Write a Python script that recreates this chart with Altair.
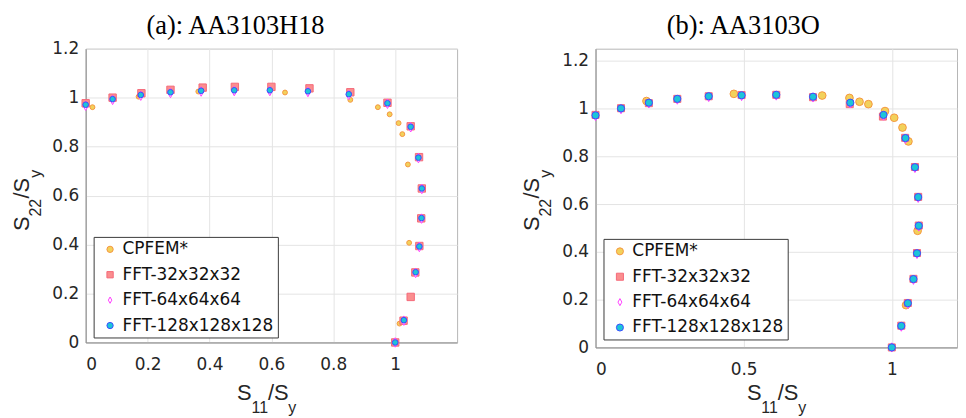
import altair as alt
import pandas as pd

names = ["CPFEM*", "FFT-32x32x32", "FFT-64x64x64", "FFT-128x128x128"]

# ---------------- Panel (a): AA3103H18 ----------------
a_cp_x = [0.022, 0.171, 0.364, 0.644, 0.855, 0.944, 0.982, 1.011, 1.023, 1.041, 1.045, 1.014]
a_cp_y = [0.961, 1.004, 1.025, 1.021, 0.991, 0.961, 0.932, 0.896, 0.851, 0.727, 0.407, 0.077]

a_f32_x = [0.0, 0.087, 0.180, 0.274, 0.378, 0.482, 0.600, 0.723, 0.855, 0.975, 1.050, 1.077, 1.086, 1.084, 1.078, 1.065, 1.050, 1.027, 1.000]
a_f32_y = [0.977, 1.000, 1.018, 1.032, 1.041, 1.044, 1.044, 1.038, 1.022, 0.979, 0.883, 0.757, 0.629, 0.507, 0.394, 0.286, 0.186, 0.089, 0.0]

a_f64_x = [0.0, 0.087, 0.178, 0.274, 0.373, 0.480, 0.595, 0.718, 0.850, 0.975, 1.050, 1.075, 1.086, 1.085, 1.078, 1.066, 1.028, 1.000]
a_f64_y = [0.967, 0.991, 1.008, 1.019, 1.025, 1.027, 1.027, 1.023, 1.011, 0.975, 0.879, 0.753, 0.627, 0.506, 0.390, 0.284, 0.089, 0.0]

a_f128_x = [0.0, 0.087, 0.178, 0.274, 0.373, 0.480, 0.595, 0.718, 0.850, 0.975, 1.050, 1.075, 1.086, 1.085, 1.078, 1.066, 1.028, 1.000]
a_f128_y = [0.971, 0.994, 1.011, 1.022, 1.028, 1.030, 1.030, 1.026, 1.014, 0.977, 0.881, 0.755, 0.629, 0.508, 0.392, 0.287, 0.091, 0.0]

# ---------------- Panel (b): AA3103O ----------------
b_cp_x = [0.172, 0.467, 0.765, 0.857, 0.891, 0.921, 0.977, 1.008, 1.036, 1.056, 1.087, 1.048]
b_cp_y = [1.031, 1.061, 1.054, 1.044, 1.028, 1.018, 0.989, 0.961, 0.920, 0.862, 0.488, 0.177]

b_f32_x = [0.0, 0.086, 0.180, 0.276, 0.382, 0.493, 0.610, 0.734, 0.858, 0.970, 1.045, 1.078, 1.089, 1.091, 1.085, 1.073, 1.054, 1.032, 1.000]
b_f32_y = [0.973, 1.001, 1.022, 1.040, 1.051, 1.056, 1.057, 1.047, 1.018, 0.966, 0.877, 0.755, 0.630, 0.510, 0.395, 0.287, 0.186, 0.091, 0.0]

b_f64_x = [0.0, 0.086, 0.180, 0.276, 0.382, 0.493, 0.610, 0.734, 0.860, 0.972, 1.046, 1.078, 1.089, 1.091, 1.085, 1.073, 1.054, 1.032, 1.000]
b_f64_y = [0.968, 0.997, 1.021, 1.037, 1.048, 1.052, 1.054, 1.046, 1.021, 0.970, 0.873, 0.751, 0.626, 0.506, 0.391, 0.283, 0.182, 0.087, 0.0]

b_f128_x = [0.0, 0.086, 0.180, 0.276, 0.382, 0.493, 0.610, 0.734, 0.860, 0.972, 1.046, 1.078, 1.089, 1.091, 1.085, 1.073, 1.054, 1.032, 1.000]
b_f128_y = [0.971, 1.000, 1.024, 1.040, 1.051, 1.055, 1.057, 1.049, 1.024, 0.973, 0.876, 0.754, 0.629, 0.509, 0.394, 0.286, 0.185, 0.090, 0.0]

# ---------------- styling ----------------
fills = ["#f2d15b", "#fa8e8e", "#ffffff", "#1cc5d7"]
strokes = ["#f5963f", "#f56a7a", "#ff3dff", "#3a4cff"]
diamond = "M0,-1L0.55,0L0,1L-0.55,0Z"
shapes = ["circle", "square", diamond, "circle"]
TXT = "#262626"


def one_text(text, px, py, font, fs, color, angle=None, align="left"):
    kw = dict(align=align, baseline="alphabetic", font=font, fontSize=fs,
              color=color, text=text)
    if angle is not None:
        kw["angle"] = angle
    return alt.Chart(pd.DataFrame({"k": [0]})).mark_text(**kw).encode(
        x=alt.value(px), y=alt.value(py)
    )


def sub_title(parts, x0, y0, rotate):
    layers = []
    for text, fs, off, shift in parts:
        if rotate:
            px, py = x0 + shift, y0 - off
        else:
            px, py = x0 + off, y0 + shift
        layers.append(one_text(text, px, py, "Liberation Sans", fs, TXT,
                               angle=270 if rotate else None))
    return layers


def panel(series, title, title_x, xt_x, xdom, xvals, ydom, width, height, sizes,
          legend_y, sym_size):
    rows = []
    for name, (xs, ys) in zip(names, series):
        for x, y in zip(xs, ys):
            rows.append({"series": name, "x": x, "y": y, "sz": sizes[name]})
    df = pd.DataFrame(rows)
    leg = alt.Legend(
        orient="none", legendX=8, legendY=legend_y, title=None,
        labelFont="DejaVu Sans", labelFontSize=17, labelColor="#111111",
        strokeColor="#3a3a3a", fillColor="white", padding=4,
        rowPadding=7.5, symbolOffset=4, labelOffset=4,
        symbolStrokeWidth=1, symbolSize=sym_size, labelLimit=300,
    )
    pts = alt.Chart(df).mark_point(filled=True, opacity=1, strokeWidth=1).encode(
        x=alt.X("x:Q", scale=alt.Scale(domain=xdom, nice=False, zero=False),
                axis=alt.Axis(values=xvals, format="~g", title=None)),
        y=alt.Y("y:Q", scale=alt.Scale(domain=ydom, nice=False, zero=False),
                axis=alt.Axis(values=[0, 0.2, 0.4, 0.6, 0.8, 1, 1.2], format="~g", title=None)),
        fill=alt.Fill("series:N", scale=alt.Scale(domain=names, range=fills), legend=leg),
        stroke=alt.Stroke("series:N", scale=alt.Scale(domain=names, range=strokes), legend=leg),
        shape=alt.Shape("series:N", scale=alt.Scale(domain=names, range=shapes), legend=leg),
        size=alt.Size("sz:Q", scale=None, legend=None),
    )
    xt = sub_title([("S", 22, 0, 0), ("11", 16, 14.5, 13), ("/", 22, 31, 0),
                    ("S", 22, 37, 0), ("y", 16, 51.5, 13)], xt_x, 353, False)
    yt = sub_title([("S", 22, 0, 0), ("22", 16, 14.5, 12), ("/", 22, 32.5, 0),
                    ("S", 22, 38.5, 0), ("y", 16, 53.5, 12)], -57, 183, True)
    tt = one_text(title, title_x, -15, "Liberation Serif", 26.5, "black", align="center")
    return alt.layer(pts, *xt, *yt, tt).properties(width=width, height=height)


left = panel(
    [(a_cp_x, a_cp_y), (a_f32_x, a_f32_y), (a_f64_x, a_f64_y), (a_f128_x, a_f128_y)],
    "(a): AA3103H18", 150.5, 152, [0, 1.2], [0, 0.2, 0.4, 0.6, 0.8, 1], [0, 1.2], 373, 295,
    {"CPFEM*": 24, "FFT-32x32x32": 55, "FFT-64x64x64": 90, "FFT-128x128x128": 32},
    189, 40,
)
right = panel(
    [(b_cp_x, b_cp_y), (b_f32_x, b_f32_y), (b_f64_x, b_f64_y), (b_f128_x, b_f128_y)],
    "(b): AA3103O", 148.4, 152, [0, 1.22], [0, 0.5, 1], [0, 1.25], 363, 300,
    {"CPFEM*": 60, "FFT-32x32x32": 50, "FFT-64x64x64": 85, "FFT-128x128x128": 52},
    191, 50,
)

chart = alt.hconcat(left, right, spacing=62).resolve_scale(
    fill="independent", stroke="independent", shape="independent",
    x="independent", y="independent",
).resolve_legend(
    fill="independent", stroke="independent", shape="independent",
).configure(
    padding={"left": 2, "top": 3, "right": 0, "bottom": 0}
).configure_view(stroke="#b5b5b5", strokeWidth=1).configure_axis(
    grid=True, gridColor="#e4e4e4", gridWidth=1, ticks=False,
    domainColor="#8a8a8a", domainWidth=1,
    labelFont="DejaVu Sans", labelFontSize=17, labelColor=TXT,
).configure_axisX(labelPadding=14).configure_axisY(labelPadding=7)

chart.save("out.html", embed_options={"renderer": "svg", "actions": False})
